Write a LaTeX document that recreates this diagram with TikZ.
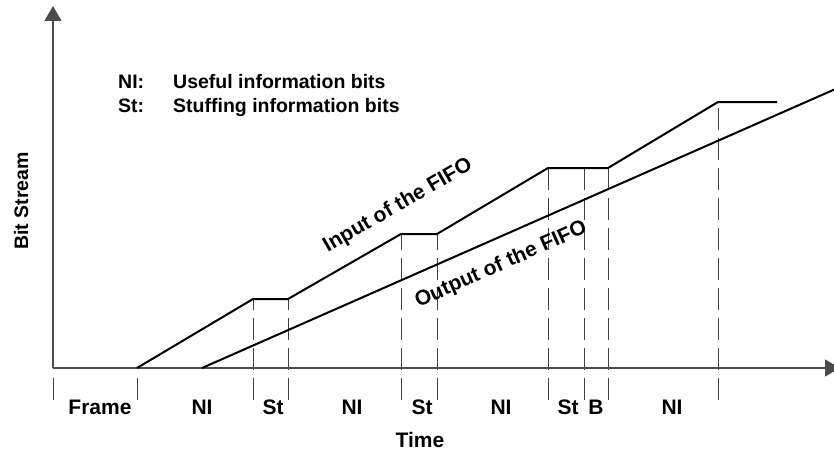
\documentclass[tikz,border=0pt]{standalone}
\usepackage{fontspec}
\setmainfont{Liberation Sans}
\usetikzlibrary{arrows.meta}

\begin{document}
\begin{tikzpicture}[x=1pt,y=-1pt,
  axisline/.style={line width=1.4pt, draw=black!70, -{Triangle[length=15pt,width=17pt]}},
  curve/.style={line width=2pt, black, line join=miter},
  guide/.style={line width=1pt, black!75, dash pattern=on 22pt off 8pt},
  lbl/.style={font=\fontsize{21}{24}\selectfont\bfseries, inner sep=0pt, anchor=base},
  legend/.style={font=\fontsize{19.5}{22}\selectfont\bfseries, inner sep=0pt, anchor=base west},
  slanted/.style={font=\fontsize{21}{24}\selectfont\bfseries, inner sep=0pt},
]
\useasboundingbox (0,0) rectangle (834,452);

% axes
\coordinate (O) at (53,368);
\coordinate (ytop) at (53,6);
\coordinate (xend) at (840,368);

% interval boundaries below the time axis
\foreach \x/\top in {53/378, 137/378, 253/299, 288/299, 401/234, 437/234,
                     548/168, 584/168, 608/168, 718/102}
  \draw[guide] (\x,400) -- (\x,\top);

\draw[axisline] (O) -- (ytop);
\draw[axisline] (O) -- (xend);

% input of the FIFO: rising segments with flat stuffing intervals
\coordinate (i0) at (137,368);
\coordinate (i1) at (253,299);
\coordinate (i2) at (288,299);
\coordinate (i3) at (401,234);
\coordinate (i4) at (437,234);
\coordinate (i5) at (548,168);
\coordinate (i6) at (608,168);
\coordinate (i7) at (718,102);
\coordinate (i8) at (777,102);
\draw[curve] (i0) -- (i1) -- (i2) -- (i3) -- (i4) -- (i5) -- (i6) -- (i7) -- (i8);

% output of the FIFO: constant rate
\coordinate (o0) at (202,368);
\coordinate (o1) at (840,87);
\draw[curve] (o0) -- (o1);

% curve labels
\node[slanted, rotate=30] (lin) at (398,206) {Input of the FIFO};
\node[slanted, rotate=24] (lout) at (501,265) {Output of the FIFO};

% legend
\node[legend] (k1) at (118,88) {NI:};
\node[legend] (d1) at (173,88) {Useful information bits};
\node[legend] (k2) at (118,112) {St:};
\node[legend] (d2) at (173,112) {Stuffing information bits};

% interval names
\node[lbl] (t1) at (100,414) {Frame};
\node[lbl] (t2) at (202,414) {NI};
\node[lbl] (t3) at (273,414) {St};
\node[lbl] (t4) at (352,414) {NI};
\node[lbl] (t5) at (422,414) {St};
\node[lbl] (t6) at (501,414) {NI};
\node[lbl] (t7) at (568,414) {St};
\node[lbl] (t8) at (596,414) {B};
\node[lbl] (t9) at (672,414) {NI};

% axis titles
\node[lbl] (xt) at (420,447) {Time};
\node[legend, anchor=base, rotate=90] (yt) at (28,201) {Bit Stream};
\end{tikzpicture}
\end{document}
